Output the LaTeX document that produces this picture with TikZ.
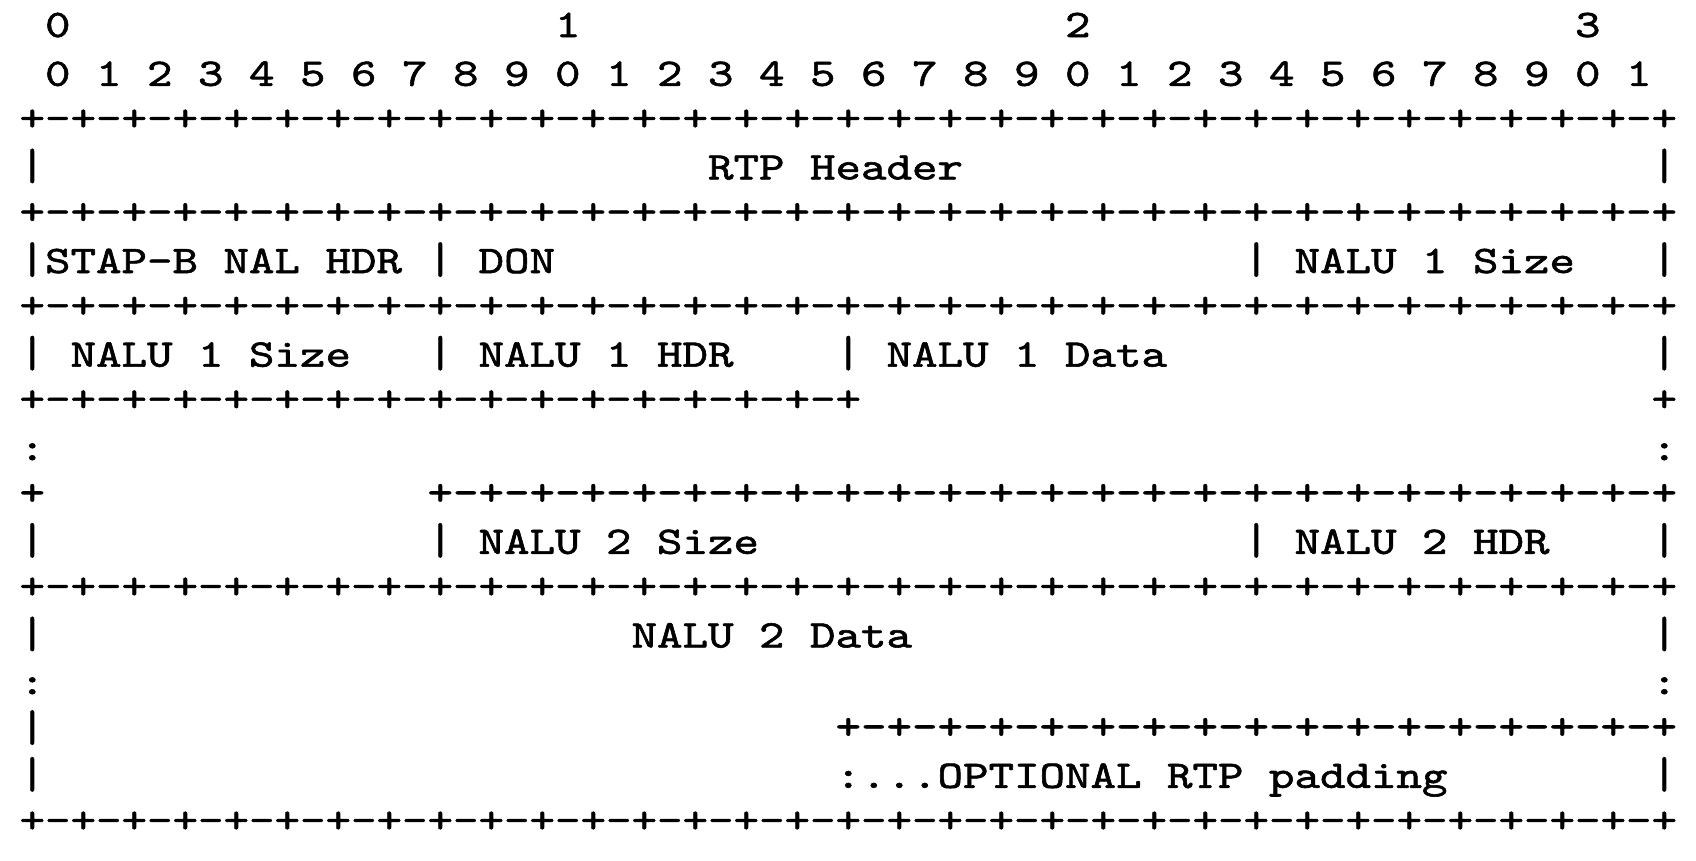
\documentclass[tikz,border=0pt]{standalone}
\usepackage{fontspec}
\newfontfamily\mono{lmmono10-regular}[Extension=.otf,FakeStretch=1.2454,FakeBold=1.5]
\tikzset{
  t/.style={anchor=base west, inner sep=0pt, outer sep=0pt,
    font=\mono\fontsize{39}{47}\selectfont, text=black},
  gl/.style={t, yshift=2.2pt},
  bar/.style={t, transform shape, yscale=1.13},
}
\newcommand\colx[1]{19.55+25.5*(#1)}
\newcommand\rowy[1]{132.6+((#1)-2)*46.8}
\newcommand\txt[4]{\node[t] (#1) at ({\colx{#2}},{\rowy{#3}}) {#4};}
\newcommand\grd[4]{\node[gl] (#1) at ({\colx{#2}},{\rowy{#3}}) {#4};}
\newcommand\vb[3]{\node[bar] (#1) at ({\colx{#2}},{\rowy{#3}}) {|};}
\begin{document}
\begin{tikzpicture}[x=1pt,y=-1pt]
\useasboundingbox (0,0) rectangle (1696,860);
% header digits
\node[t] (h0) at ({\colx{1}},37) {0};
\node[t] (h1) at ({\colx{21}},37) {1};
\node[t] (h2) at ({\colx{41}},37) {2};
\node[t] (h3) at ({\colx{61}},37) {3};
\foreach \i in {0,...,31}{
  \pgfmathtruncatemacro\d{mod(\i,10)}
  \node[t] (b\i) at ({\colx{1+2*\i}},{\rowy{1}}) {\d};
}
% row 2
\grd{g2}{0}{2}{\foreach\i in {1,...,32}{+-}+}
% row 3
\vb{v3a}{0}{3}
\txt{rtp}{27}{3}{RTP Header}
\vb{v3b}{64}{3}
% row 4
\grd{g4}{0}{4}{\foreach\i in {1,...,32}{+-}+}
% row 5
\vb{v5a}{0}{5}
\txt{stap}{1}{5}{STAP-B NAL HDR}
\vb{v5b}{16}{5}
\txt{don}{18}{5}{DON}
\vb{v5c}{48}{5}
\txt{n1s}{50}{5}{NALU 1 Size}
\vb{v5d}{64}{5}
% row 6
\grd{g6}{0}{6}{\foreach\i in {1,...,32}{+-}+}
% row 7
\vb{v7a}{0}{7}
\txt{n1sb}{2}{7}{NALU 1 Size}
\vb{v7b}{16}{7}
\txt{n1h}{18}{7}{NALU 1 HDR}
\vb{v7c}{32}{7}
\txt{n1d}{34}{7}{NALU 1 Data}
\vb{v7d}{64}{7}
% row 8
\grd{g8}{0}{8}{\foreach\i in {1,...,16}{+-}+}
\grd{p8}{64}{8}{+}
% row 9
\txt{c9a}{0}{9}{:}
\txt{c9b}{64}{9}{:}
% row 10
\grd{p10}{0}{10}{+}
\grd{g10}{16}{10}{\foreach\i in {1,...,24}{+-}+}
% row 11
\vb{v11a}{0}{11}
\vb{v11b}{16}{11}
\txt{n2s}{18}{11}{NALU 2 Size}
\vb{v11c}{48}{11}
\txt{n2h}{50}{11}{NALU 2 HDR}
\vb{v11d}{64}{11}
% row 12
\grd{g12}{0}{12}{\foreach\i in {1,...,32}{+-}+}
% row 13
\vb{v13a}{0}{13}
\txt{n2d}{24}{13}{NALU 2 Data}
\vb{v13b}{64}{13}
% row 14
\txt{c14a}{0}{14}{:}
\txt{c14b}{64}{14}{:}
% row 15
\vb{v15a}{0}{15}
\grd{g15}{32}{15}{\foreach\i in {1,...,16}{+-}+}
% row 16
\vb{v16a}{0}{16}
\txt{pad}{32}{16}{:...OPTIONAL RTP padding}
\vb{v16b}{64}{16}
% row 17
\grd{g17}{0}{17}{\foreach\i in {1,...,32}{+-}+}
\end{tikzpicture}
\end{document}
